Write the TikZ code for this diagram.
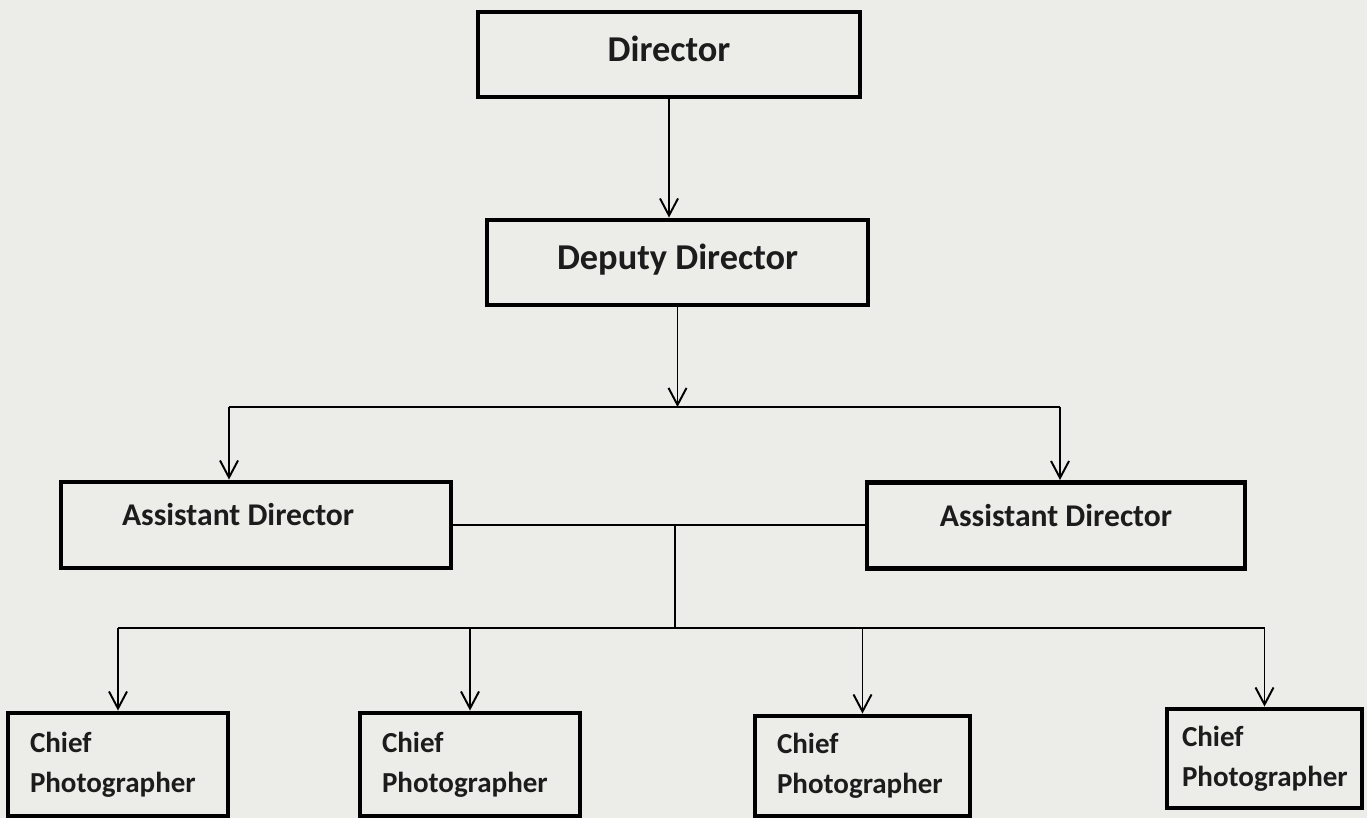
\documentclass[tikz,border=0pt]{standalone}
\usepackage{fontspec}
\setmainfont{Carlito}
\usetikzlibrary{arrows.meta}
\definecolor{paper}{RGB}{236,236,233}
\definecolor{ink}{RGB}{28,28,28}

\begin{document}
\begin{tikzpicture}

  \tikzset{post/.style={draw, line width=2.8pt, text=ink},
           head/.style={post, minimum height=1.70cm, text depth=0.22cm, font=\bfseries\fontsize{20.7}{25}\selectfont},
           asst/.style={post, minimum height=1.72cm, text depth=0.42cm, font=\bfseries\fontsize{18}{22}\selectfont},
           chief/.style={post, align=flush left, text width=#1, inner xsep=0.44cm, minimum height=2.06cm, font=\bfseries\fontsize{16.5}{22.8}\selectfont},
           link/.style={line width=1.1pt},
           arr/.style={link, -{Straight Barb[length=3.4mm, width=3.6mm]}}}

\fill[paper] (0,0) rectangle (27.34,-16.36);
\useasboundingbox (0,0) rectangle (27.34,-16.36);

\node[head, minimum width=7.64cm] (dir) at (13.38,-1.09) {Director};
\node[head, minimum width=7.62cm] (dep) at (13.55,-5.25) {Deputy Director};

\node[asst, align=flush left, text width=5.36cm, inner xsep=1.22cm] (asl) at (5.12,-10.50) {Assistant Director};
\node[asst, minimum width=7.56cm] (asr) at (21.12,-10.51) {Assistant Director};

\node[chief=3.52cm] (c1) at (2.36,-15.29) {Chief\\Photographer};
\node[chief=3.52cm] (c2) at (9.40,-15.29) {Chief\\Photographer};
\node[chief=3.42cm, minimum height=2.00cm] (c3) at (17.25,-15.32) {Chief\\Photographer};
\node[chief=3.30cm, inner xsep=0.30cm, minimum height=1.98cm] (c4) at (25.29,-15.17) {Chief\\Photographer};

\coordinate (t1l) at (4.58,-8.14);
\coordinate (t1r) at (21.20,-8.14);
\coordinate (t2) at (13.50,-12.56);

\draw[arr] (dir.south) -- (dir.south |- dep.north);
\draw[arr] (dep.south) -- (dep.south |- t1l);

\draw[link] (t1l) -- (t1r);
\draw[arr] (t1l) -- (t1l |- asl.north);
\draw[arr] (t1r) -- (t1r |- asr.north);

\draw[link] (asl.east) -- (asl.east -| asr.west);
\draw[link] (t2 |- asl.east) -- (t2);

\draw[link] (c1.north |- t2) -- (c4.north |- t2);
\foreach \c in {c1,c2,c3,c4}
  \draw[arr] (\c.north |- t2) -- (\c.north);

\end{tikzpicture}
\end{document}
